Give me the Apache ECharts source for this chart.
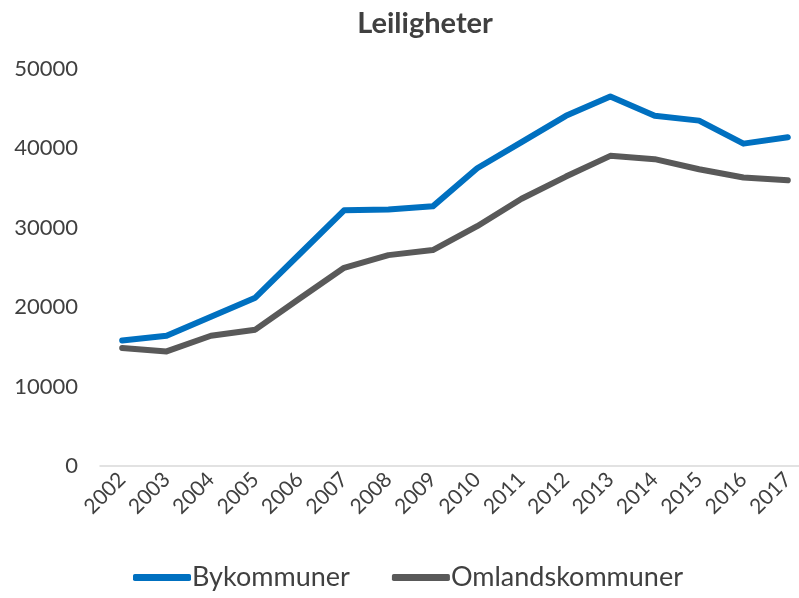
<!DOCTYPE html>
<html>
<head>
<meta charset="utf-8">
<script src="https://cdn.jsdelivr.net/npm/echarts@6/dist/echarts.min.js"></script>
<style>
  html, body { margin: 0; padding: 0; background: #fff; }
  #chart { width: 799px; height: 598px; }
</style>
</head>
<body>
<div id="chart"></div>
<script>
var years = ['2002', '2003', '2004', '2005', '2006', '2007', '2008', '2009',
  '2010', '2011', '2012', '2013', '2014', '2015', '2016', '2017']
var bykommuner = [15800, 16400, 18800, 21200, 26700, 32200, 32300, 32700,
  37500, 40800, 44100, 46550, 44100, 43500, 40600, 41400]
var omland = [14860, 14430, 16400, 17170, 21100, 24960, 26560, 27200,
  30200, 33660, 36450, 39060, 38640, 37370, 36330, 35980]

var font = 'Lato'
var myChart = echarts.init(document.getElementById('chart'))
var option = {
  title: {
    text: 'Leiligheter',
    left: 420,
    textAlign: 'center',
    top: 4,
    textStyle: { color: '#404040', fontSize: 29, fontWeight: 'bold', fontFamily: font }
  },
  legend: {
    bottom: 2,
    left: 128,
    itemWidth: 58,
    itemHeight: 7,
    itemGap: 42,
    icon: 'roundRect',
    textStyle: { color: '#404040', fontSize: 27, fontFamily: font, padding: [0, 0, 0, -4] },
    data: ['Bykommuner', 'Omlandskommuner']
  },
  grid: { left: 100, top: 69, width: 710, bottom: 132, outerBoundsMode: 'none' },
  xAxis: {
    type: 'category',
    data: years,
    boundaryGap: true,
    axisLine: { lineStyle: { color: '#d9d9d9', width: 1.5 } },
    axisTick: { show: false },
    axisLabel: { rotate: 45, interval: 0, color: '#404040', fontSize: 21, fontFamily: font, margin: 10 }
  },
  yAxis: {
    type: 'value',
    min: 0,
    max: 50000,
    interval: 10000,
    axisLine: { show: false },
    axisTick: { show: false },
    splitLine: { show: false },
    axisLabel: { color: '#404040', fontSize: 22, fontFamily: font, margin: 22, formatter: function (v) { return String(v) } }
  },
  series: [
    {
      name: 'Bykommuner', type: 'line', data: bykommuner,
      symbol: 'none', color: '#0070c0',
      lineStyle: { width: 6, color: '#0070c0', cap: 'round', join: 'round' }
    },
    {
      name: 'Omlandskommuner', type: 'line', data: omland,
      symbol: 'none', color: '#595959',
      lineStyle: { width: 6, color: '#595959', cap: 'round', join: 'round' }
    }
  ]
}
myChart.setOption(option)
</script>
</body>
</html>
